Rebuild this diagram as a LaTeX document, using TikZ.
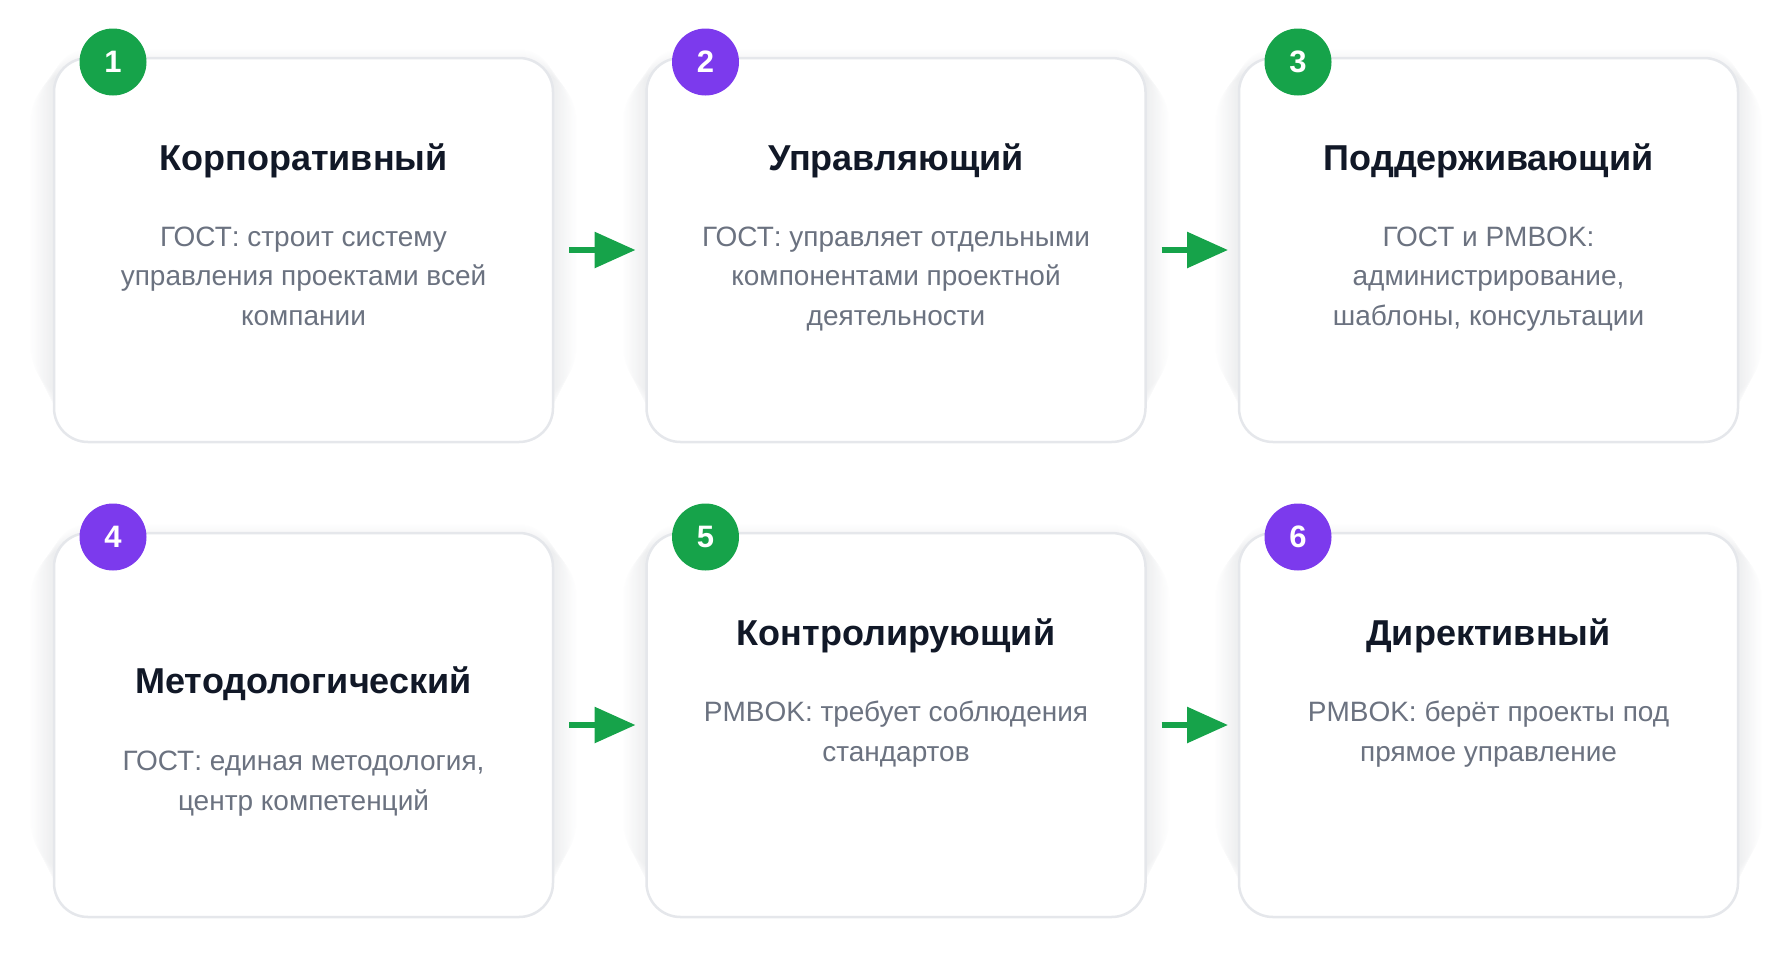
\documentclass[tikz,border=0pt]{standalone}
\usepackage{fontspec}
\setmainfont{Liberation Sans}
\usetikzlibrary{arrows.meta,backgrounds}
\definecolor{grn}{HTML}{16A34A}
\definecolor{prp}{HTML}{7C3AED}
\definecolor{ttl}{HTML}{111827}
\definecolor{dsc}{HTML}{6B7280}
\definecolor{brd}{HTML}{E5E7EB}
\definecolor{shd}{HTML}{1E293B}
\tikzset{
  card/.style={draw=brd, line width=2.5pt, fill=white, rounded corners=34pt,
    minimum width=499pt, minimum height=384pt, inner sep=0pt, outer sep=0pt},
  badge/.style={circle, minimum size=67pt, inner sep=0pt, text=white,
    font=\fontsize{31}{36}\selectfont\bfseries},
  ttlstyle/.style={text=ttl, inner sep=0pt, anchor=base,
    font=\fontsize{36}{43}\selectfont\bfseries},
  dscstyle/.style={text=dsc, inner sep=0pt, align=center, anchor=base,
    font=\fontsize{28}{39.3}\selectfont},
  arr/.style={draw=grn, line width=6pt, -{Triangle[length=41pt,width=35pt]}},
}
\begin{document}
\begin{tikzpicture}[x=1pt,y=-1pt]
\useasboundingbox (0,0) rectangle (1790,977);
% cards
\node[card] (c1) at (303.5,250) {};
\node[card] (c2) at (896,250) {};
\node[card] (c3) at (1488.5,250) {};
\node[card] (c4) at (303.5,725) {};
\node[card] (c5) at (896,725) {};
\node[card] (c6) at (1488.5,725) {};
% shadows
\begin{scope}[on background layer]
\foreach \c in {c1,c2,c3,c4,c5,c6}{
  \foreach \i in {1,...,20}{
    \fill[shd, opacity=0.004, rounded corners=34pt+\i pt]
      ([shift={(-\i*1.2pt,-\i*1.0pt+10pt)}]\c.north west) rectangle
      ([shift={(\i*1.2pt,\i*1.6pt+10pt)}]\c.south east);
  }
}
\end{scope}
% badges
\node[badge, fill=grn] (b1) at (113,62) {1};
\node[badge, fill=prp] (b2) at (705.5,62) {2};
\node[badge, fill=grn] (b3) at (1298,62) {3};
\node[badge, fill=prp] (b4) at (113,537) {4};
\node[badge, fill=grn] (b5) at (705.5,537) {5};
\node[badge, fill=prp] (b6) at (1298,537) {6};
% titles
\node[ttlstyle] (t1) at (303.5,170) {Корпоративный};
\node[ttlstyle] (t2) at (896,170) {Управляющий};
\node[ttlstyle] (t3) at (1488.5,170) {Поддерживающий};
\node[ttlstyle] (t4) at (303.5,693) {Методологический};
\node[ttlstyle] (t5) at (896,645) {Контролирующий};
\node[ttlstyle] (t6) at (1488.5,645) {Директивный};
% descriptions (anchor base = last line baseline)
\node[dscstyle] (d1) at (303.5,325) {ГОСТ: строит систему\\управления проектами всей\\компании};
\node[dscstyle] (d2) at (896,325) {ГОСТ: управляет отдельными\\компонентами проектной\\деятельности};
\node[dscstyle] (d3) at (1488.5,325) {ГОСТ и PMBOK:\\администрирование,\\шаблоны, консультации};
\node[dscstyle] (d4) at (303.5,810) {ГОСТ: единая методология,\\центр компетенций};
\node[dscstyle] (d5) at (896,761) {PMBOK: требует соблюдения\\стандартов};
\node[dscstyle] (d6) at (1488.5,761) {PMBOK: берёт проекты под\\прямое управление};
% arrows
\draw[arr] ([xshift=16pt]c1.east) -- ([xshift=-11pt]c2.west);
\draw[arr] ([xshift=16pt]c2.east) -- ([xshift=-11pt]c3.west);
\draw[arr] ([xshift=16pt]c4.east) -- ([xshift=-11pt]c5.west);
\draw[arr] ([xshift=16pt]c5.east) -- ([xshift=-11pt]c6.west);
\end{tikzpicture}
\end{document}
